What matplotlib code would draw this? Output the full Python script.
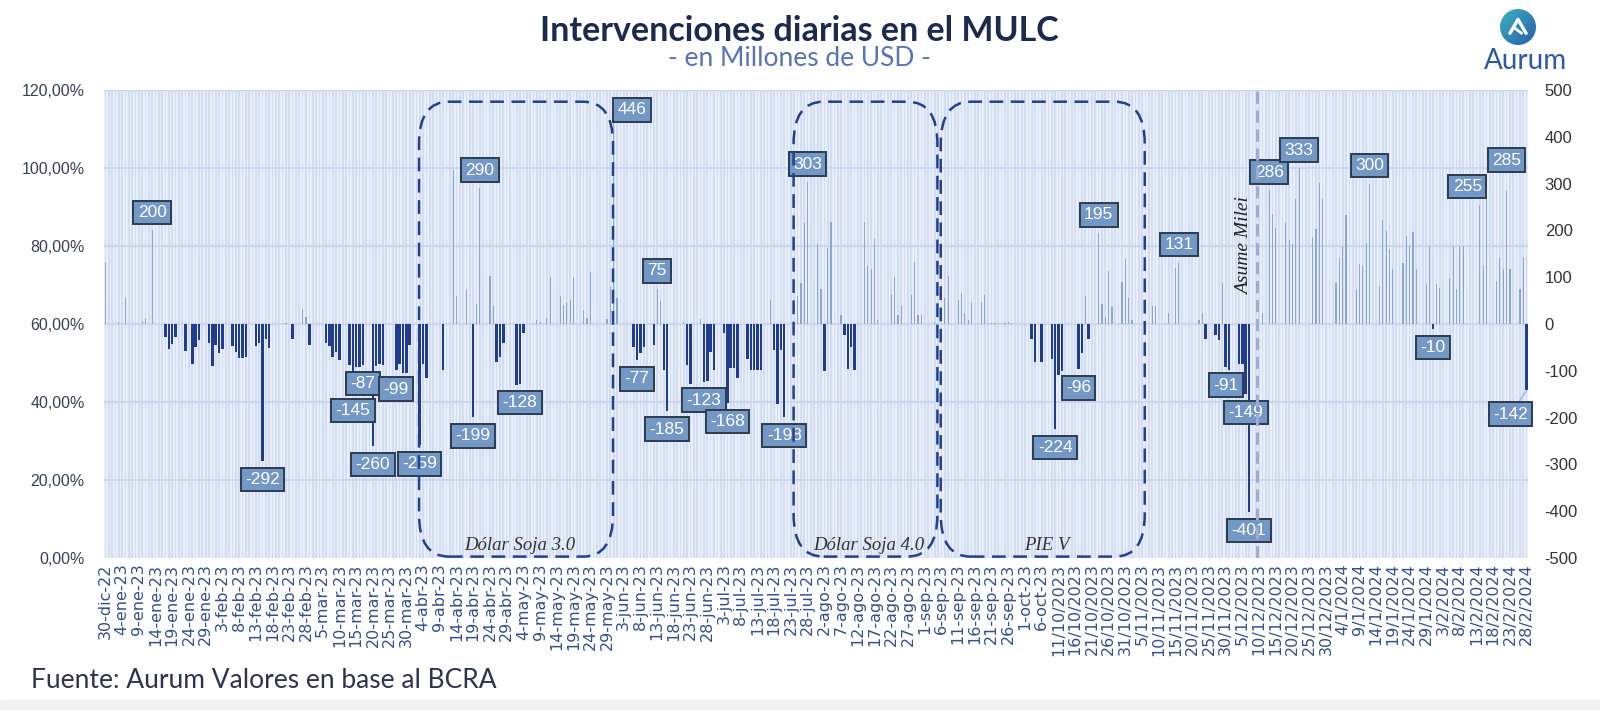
import numpy as np
import pandas as pd
import matplotlib
matplotlib.use("Agg")
import matplotlib.pyplot as plt
from matplotlib.patches import FancyBboxPatch, Circle, Rectangle
from matplotlib.transforms import IdentityTransform, blended_transform_factory
from matplotlib.colors import LinearSegmentedColormap

# ---------------- DATA (millones de USD, diario) ----------------
inicio = "2022-12-30"
fin = "2024-02-28"
dic22 = [132, 0]
ene23 = [0, 0, 4, 0, 55, 0, 0, 0, 0, 7,
         13, 0, 200, 0, 0, 0, -27, -54, -43, -27,
         0, 0, -57, 0, -86, -49, -34, 0, 0, -40,
         -89]
feb23 = [-45, -63, -54, 0, 0, -47, -59, -72, -72, -70,
         0, 0, -48, -40, -292, -31, -52, 0, 0, 0,
         0, 3, 0, -31, 0, 0, 32, 16]
mar23 = [-45, 0, 0, 0, 0, -41, -48, -70, -59, -77,
         0, 0, -88, -145, -92, -92, -87, 0, 0, -260,
         -90, -85, -88, 0, 0, 0, -99, -85, -105, -105,
         -45]
abr23 = [0, 0, -259, -85, -115, 0, 0, 0, 0, -99,
         0, 0, 330, 59, 0, 0, 73, 0, -199, 43,
         290, 0, 0, 103, 39, -81, -70, -40, 0, 0]
may23 = [0, -131, -128, -20, 0, 0, 0, 8, 5, 0,
         13, 100, 0, 0, 59, 41, 48, 52, 100, 0,
         0, 30, 13, 111, 0, 0, 0, 0, 10, 80,
         446]
jun23 = [55, 0, 0, 0, 0, -49, -77, -63, -49, 0,
         0, -45, 75, 50, -99, -185, 0, 0, 0, 0,
         5, -88, -128, 0, 0, 10, -123, -121, -59, -99]
jul23 = [0, 0, -20, -168, -95, -95, -115, 0, 0, -74,
         -99, -99, -99, -99, 0, 0, 52, -56, -171, -56,
         -198, 0, 0, 0, 59, 87, 215, 303, 0, 0,
         172]
ago23 = [75, -100, 163, 217, 0, 0, 20, -24, -96, -49,
         -99, 0, 0, 218, 124, 117, 182, 9, 0, 0,
         0, 65, 100, 20, 38, 0, 0, 63, 132, 20,
         20]
sep23 = [0, 0, 0, 5, 0, 0, 55, 102, 0, 0,
         52, 66, 24, 9, 48, 0, 0, 48, 61, 3,
         2, 3, 0, 0, 2, 4, 3, 0, 0, 0]
oct23 = [0, 0, -31, -81, 0, -81, 0, 0, -74, -224,
         -108, -100, 0, 0, 0, 0, -96, -62, 59, -31,
         0, 0, 195, 42, 16, 113, 36, 0, 0, 90,
         138]
nov23 = [56, 9, 0, 0, 0, 0, 0, 38, 38, 0,
         0, 0, 24, 0, 120, 131, 0, 0, 0, 0,
         0, 9, 24, -31, 0, 0, -24, -35, 88, -91]
dic23 = [-99, 0, 0, -86, -86, -149, -401, 0, 0, 0,
         24, 0, 286, 235, 206, 0, 0, 215, 179, 170,
         267, 333, 0, 0, 0, 186, 204, 302, 267, 0,
         0]
ene24 = [0, 88, 142, 167, 233, 0, 0, 72, 128, 124,
         174, 300, 0, 0, 81, 223, 199, 160, 117, 0,
         0, 131, 188, 167, 197, 117, 0, 0, 85, 167,
         -10]
feb24 = [85, 77, 0, 0, 99, 167, 75, 167, 167, 0,
         0, 0, 0, 255, 125, 318, 0, 0, 92, 140,
         117, 285, 117, 0, 0, 74, 142, -142]

bloques = [("2022-12-30", dic22), ("2023-01-01", ene23), ("2023-02-01", feb23),
           ("2023-03-01", mar23), ("2023-04-01", abr23), ("2023-05-01", may23),
           ("2023-06-01", jun23), ("2023-07-01", jul23), ("2023-08-01", ago23),
           ("2023-09-01", sep23), ("2023-10-01", oct23), ("2023-11-01", nov23),
           ("2023-12-01", dic23), ("2024-01-01", ene24), ("2024-02-01", feb24)]

etiquetas = ["2023-01-13", "2023-02-15", "2023-03-14", "2023-03-17", "2023-03-20",
             "2023-03-27", "2023-04-03", "2023-04-19", "2023-04-21", "2023-05-03",
             "2023-05-31", "2023-06-07", "2023-06-13", "2023-06-16", "2023-06-27",
             "2023-07-04", "2023-07-21", "2023-07-28", "2023-10-10", "2023-10-17",
             "2023-10-23", "2023-11-16", "2023-11-30", "2023-12-06", "2023-12-07",
             "2023-12-13", "2023-12-22", "2024-01-12", "2024-01-31", "2024-02-14",
             "2024-02-22", "2024-02-28"]

periodos = ["Dólar Soja 3.0", "Dólar Soja 4.0", "PIE V"]
periodos_inicio = ["2023-04-03", "2023-07-24", "2023-09-06"]
periodos_fin = ["2023-05-31", "2023-09-05", "2023-11-06"]

fecha_milei = "2023-12-10"
texto_milei = "Asume Milei"

meses_es = ["ene", "feb", "mar", "abr", "may", "jun",
            "jul", "ago", "sep", "oct", "nov", "dic"]
cambio_formato = "2023-10-11"

# ---------------- BUILD SERIES ----------------
t0 = pd.Timestamp(inicio)
t1 = pd.Timestamp(fin)
fechas, valores = [], []
for ini, vv in bloques:
    f0 = pd.Timestamp(ini)
    fin_mes = f0 + pd.offsets.MonthEnd(0)
    if fin_mes > t1:
        fin_mes = t1
    esperado = (fin_mes - f0).days + 1
    if len(vv) != esperado:
        raise ValueError(f"{ini}: {len(vv)} != {esperado}")
    fechas.extend(pd.date_range(f0, periods=len(vv), freq="D"))
    valores.extend(vv)
dias = np.array([(f - t0).days for f in fechas])
vals = np.array(valores, dtype=float)
n = len(dias)

# ---------------- FIGURE ----------------
fig = plt.figure(figsize=(16, 7.1), dpi=100)
fig.patches.append(Rectangle((0, 0), 1, 10 / 710, transform=fig.transFigure,
                             color="#f1f1f1", zorder=0))

ax = fig.add_axes([104 / 1600, 1 - 558 / 710, 1424 / 1600, 468 / 710])
ax.set_facecolor("#e9eff9")
ax.bar(dias, 1.2, width=0.5, color="#d3ddf2", linewidth=0, zorder=1)
for yv in np.arange(0.2, 1.21, 0.2):
    ax.axhline(yv, color="#c8d5ee", lw=1.3, zorder=2)
ax.set_ylim(0, 1.2)
ax.set_xlim(-0.4, n - 0.6)
for s in ax.spines.values():
    s.set_visible(False)
yt = np.arange(0, 1.21, 0.2)
ax.set_yticks(yt)
ax.set_yticklabels([f"{v * 100:.2f}".replace(".", ",") + "%" for v in yt],
                   fontsize=11.5, color="#34405a", family="Liberation Sans")

ax2 = ax.twinx()
ax2.set_ylim(-500, 500)
ax2.set_yticks(np.arange(-500, 501, 100))
ax2.set_yticklabels([str(v) for v in range(-500, 501, 100)], fontsize=12,
                    color="#333333", family="Liberation Sans")
for s in ax2.spines.values():
    s.set_visible(False)
ax.tick_params(length=0, pad=14)
ax2.tick_params(length=0, pad=12)

pos = vals > 0
neg = vals < 0
ax2.bar(dias[pos], vals[pos], width=0.35, color="#8aa6d4", linewidth=0, zorder=3)
ax2.bar(dias[neg], vals[neg], width=0.75, color="#1f3c92", linewidth=0, zorder=3)

# x ticks
xt = np.arange(0, n, 5)
lab = []
for k in xt:
    d = t0 + pd.Timedelta(days=int(k))
    if d < pd.Timestamp(cambio_formato):
        lab.append(f"{d.day}-{meses_es[d.month - 1]}-{d.strftime('%y')}")
    else:
        lab.append(f"{d.day}/{d.month}/{d.year}")
ax.set_xticks(xt)
ax.set_xticklabels(lab, rotation=90, fontsize=11.5, color="#34508a",
                   family="DejaVu Sans")
ax.tick_params(axis="x", pad=4)

# data labels
desplaz = {"2023-05-31": (13, 4), "2024-02-14": (-9, 13),
           "2024-02-22": (0, 22), "2024-02-28": (-11.5, -17)}
guias = {"2024-02-28"}
for f in etiquetas:
    d = (pd.Timestamp(f) - t0).days
    v = vals[d]
    dx, dy = desplaz.get(f, (0, 13 if v > 0 else -13.5))
    kw = {}
    if f in guias:
        kw["arrowprops"] = dict(arrowstyle="-", color="#a9bde3", lw=1.2,
                                shrinkA=0, shrinkB=0)
    ax2.annotate(f"{int(v)}", xy=(d, v), xytext=(dx, dy), textcoords="offset points",
                 ha="center", va="center", fontsize=12.5, color="white",
                 family="Liberation Sans",
                 bbox=dict(boxstyle="square,pad=0.25", fc="#7398c5", ec="#2c3c4f", lw=1.4),
                 zorder=7, annotation_clip=False, **kw)

# Milei line
dm = (pd.Timestamp(fecha_milei) - t0).days - 0.6
ax2.axvline(dm, color="#a2aad2", lw=2.2, ls=(0, (4, 2.2)), zorder=9)
ax2.annotate(texto_milei, xy=(dm, 167), xytext=(-9, 0), textcoords="offset points",
             rotation=90, ha="center", va="center", fontsize=14, style="italic",
             family="Liberation Serif", color="#222222", zorder=9)

# dashed period boxes
fig.canvas.draw()
btr = blended_transform_factory(ax.transData, ax.transAxes)
for nombre, a, b in zip(periodos, periodos_inicio, periodos_fin):
    x0 = (pd.Timestamp(a) - t0).days - 0.2
    x1 = (pd.Timestamp(b) - t0).days - 0.2
    p0 = btr.transform((x0, 0.003))
    p1 = btr.transform((x1, 0.975))
    patch = FancyBboxPatch((p0[0], p0[1]), p1[0] - p0[0], p1[1] - p0[1],
                           boxstyle="round,pad=0,rounding_size=30", mutation_aspect=1.4,
                           transform=IdentityTransform(), fill=False, ec="#23408e",
                           lw=1.8, ls=(0, (5.5, 3)), zorder=8)
    fig.add_artist(patch)
    ax2.text(x0 + 0.52 * (x1 - x0), 0.026, nombre, transform=btr, ha="center",
             va="center", fontsize=13.5, style="italic", family="Liberation Serif",
             color="#333333", zorder=9)

# titles
fig.text(0.4994, 1 - 31 / 710, "Intervenciones diarias en el MULC", ha="center",
         va="center", fontsize=24.5, fontweight="bold", color="#1c2a50", family="Lato")
fig.text(0.4994, 1 - 59 / 710, "- en Millones de USD -", ha="center", va="center",
         fontsize=19, color="#5a74b0", family="Lato")
fig.text(31 / 1600, 1 - 681 / 710, "Fuente: Aurum Valores en base al BCRA", ha="left",
         va="center", fontsize=19, color="#2b3550", family="Lato")

# logo
lax = fig.add_axes([(1518 - 18) / 1600, 1 - (27 + 18) / 710, 36 / 1600, 36 / 710])
lax.set_xlim(-1, 1)
lax.set_ylim(-1, 1)
lax.axis("off")
g = np.linspace(0, 1, 200)
X, Y = np.meshgrid(g, g)
cmap = LinearSegmentedColormap.from_list("lg", ["#3ab4bb", "#2a5cae"])
im = lax.imshow((X + Y) / 2, extent=[-1, 1, -1, 1], cmap=cmap, origin="upper",
                aspect="auto")
im.set_clip_path(Circle((0, 0), 1, transform=lax.transData))
lax.plot([-0.45, 0, 0.45], [-0.35, 0.42, -0.35], color="white", lw=2.4,
         solid_capstyle="round", solid_joinstyle="round")
lax.plot([-0.2, 0.2], [-0.05, -0.35], color="white", lw=2.0, solid_capstyle="round")
fig.text(1525 / 1600, 1 - 61 / 710, "Aurum", ha="center", va="center", fontsize=20,
         color="#2a5aa6", family="Lato")

fig.savefig("out.png", dpi=100)
